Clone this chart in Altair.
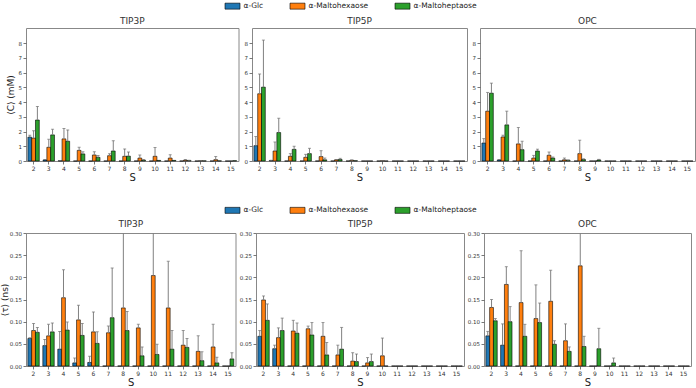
import altair as alt
import pandas as pd

S_VALUES = list(range(2, 16))
SERIES = ["α-Glc", "α-Maltohexaose", "α-Maltoheptaose"]
COLORS = ["#1f77b4", "#ff7f0e", "#2ca02c"]
MODELS = ["TIP3P", "TIP5P", "OPC"]

# ---------- <C> (mM) ----------
c_tip3p_glc = [1.62, 0.07, 0.02, 0, 0, 0, 0, 0, 0, 0, 0, 0, 0, 0]
c_tip3p_glc_err = [0.12, 0.03, 0.01, 0, 0, 0, 0, 0, 0, 0, 0, 0, 0, 0]
c_tip3p_hexa = [1.55, 0.93, 1.50, 0.72, 0.41, 0.36, 0.32, 0.20, 0.32, 0.20, 0.05, 0.02, 0.09, 0.0]
c_tip3p_hexa_err = [0.51, 0.54, 0.71, 0.21, 0.22, 0.14, 0.50, 0.21, 0.59, 0.23, 0.05, 0.01, 0.21, 0]
c_tip3p_hepta = [2.78, 1.77, 1.34, 0.48, 0.25, 0.68, 0.33, 0.05, 0.04, 0.04, 0.03, 0.01, 0.01, 0.02]
c_tip3p_hepta_err = [0.92, 0.38, 0.77, 0.14, 0.12, 0.70, 0.28, 0.05, 0, 0, 0.02, 0, 0, 0]

c_tip5p_glc = [1.04, 0.03, 0, 0, 0, 0, 0, 0, 0, 0, 0, 0, 0, 0]
c_tip5p_glc_err = [0.62, 0.02, 0, 0, 0, 0, 0, 0, 0, 0, 0, 0, 0, 0]
c_tip5p_hexa = [4.56, 0.68, 0.32, 0.25, 0.30, 0.08, 0.05, 0, 0.02, 0, 0, 0, 0, 0]
c_tip5p_hexa_err = [1.34, 0.61, 0.18, 0.20, 0.40, 0.02, 0.02, 0, 0.01, 0, 0, 0, 0, 0]
c_tip5p_hepta = [5.01, 1.93, 0.79, 0.50, 0.08, 0.10, 0.02, 0, 0, 0, 0, 0, 0, 0]
c_tip5p_hepta_err = [3.19, 0.97, 0.21, 0.36, 0.12, 0.08, 0, 0, 0, 0, 0, 0, 0, 0]

c_opc_glc = [1.22, 0.07, 0, 0, 0, 0, 0, 0, 0, 0, 0, 0, 0, 0]
c_opc_glc_err = [0.30, 0.03, 0, 0, 0, 0, 0, 0, 0, 0, 0, 0, 0, 0]
c_opc_hexa = [3.38, 1.63, 1.16, 0.20, 0.39, 0.08, 0.50, 0, 0, 0, 0, 0, 0, 0]
c_opc_hexa_err = [1.27, 0.12, 1.11, 0.18, 0.22, 0.12, 0.91, 0, 0, 0, 0, 0, 0, 0]
c_opc_hepta = [4.60, 2.45, 0.77, 0.68, 0.20, 0.05, 0.10, 0.07, 0, 0, 0, 0, 0, 0]
c_opc_hepta_err = [0.68, 0.93, 0.57, 0.12, 0.07, 0.02, 0.05, 0.04, 0, 0, 0, 0, 0, 0]

# ---------- <tau> (ns) ----------
t_tip3p_glc = [0.062, 0.046, 0.038, 0.007, 0.008, 0, 0, 0, 0, 0, 0, 0, 0, 0]
t_tip3p_glc_err = [0.002, 0.014, 0.040, 0.011, 0.014, 0, 0, 0, 0, 0, 0, 0, 0, 0]
t_tip3p_hexa = [0.080, 0.068, 0.154, 0.104, 0.077, 0.075, 0.131, 0.086, 0.204, 0.131, 0.047, 0.033, 0.043, 0]
t_tip3p_hexa_err = [0.016, 0.026, 0.063, 0.033, 0.045, 0.015, 0.250, 0.008, 0.150, 0.105, 0.033, 0.035, 0.051, 0]
t_tip3p_hepta = [0.076, 0.077, 0.081, 0.069, 0.051, 0.109, 0.080, 0.023, 0.026, 0.038, 0.042, 0.012, 0.007, 0.016]
t_tip3p_hepta_err = [0.011, 0.020, 0.018, 0.027, 0.026, 0.112, 0.043, 0.020, 0.023, 0.042, 0.020, 0.020, 0.013, 0.014]

t_tip5p_glc = [0.067, 0.039, 0, 0, 0, 0, 0, 0, 0, 0, 0, 0, 0, 0]
t_tip5p_glc_err = [0.013, 0.008, 0, 0, 0, 0, 0, 0, 0, 0, 0, 0, 0, 0]
t_tip5p_hexa = [0.149, 0.064, 0.079, 0.084, 0.067, 0.025, 0.011, 0.007, 0.023, 0, 0, 0, 0, 0]
t_tip5p_hexa_err = [0.009, 0.022, 0.024, 0.006, 0.031, 0.022, 0.019, 0.012, 0.040, 0, 0, 0, 0, 0]
t_tip5p_hepta = [0.103, 0.080, 0.074, 0.070, 0.025, 0.038, 0.010, 0.010, 0, 0, 0, 0, 0, 0]
t_tip5p_hepta_err = [0.037, 0.028, 0.023, 0.028, 0.028, 0.049, 0.017, 0.017, 0, 0, 0, 0, 0, 0]

t_opc_glc = [0.068, 0.047, 0, 0, 0, 0, 0, 0, 0, 0, 0, 0, 0, 0]
t_opc_glc_err = [0.010, 0.048, 0, 0, 0, 0, 0, 0, 0, 0, 0, 0, 0, 0]
t_opc_hexa = [0.132, 0.184, 0.143, 0.107, 0.146, 0.057, 0.226, 0, 0, 0, 0, 0, 0, 0]
t_opc_hexa_err = [0.018, 0.040, 0.117, 0.076, 0.070, 0.038, 0.150, 0, 0, 0, 0, 0, 0, 0]
t_opc_hepta = [0.102, 0.100, 0.067, 0.098, 0.049, 0.033, 0.044, 0.039, 0.007, 0, 0, 0, 0, 0]
t_opc_hepta_err = [0.005, 0.034, 0.027, 0.044, 0.008, 0.010, 0.023, 0.046, 0.011, 0, 0, 0, 0, 0]

C_TICKS = [0, 1, 2, 3, 4, 5, 6, 7, 8]
T_TICKS = [0.0, 0.05, 0.10, 0.15, 0.20, 0.25, 0.30]

FONT = "DejaVu Sans"


def build_df(means, errs):
    rows = []
    for series, m, e in zip(SERIES, means, errs):
        for s, v, er in zip(S_VALUES, m, e):
            rows.append({"S": s, "series": series, "val": v, "hi": v + er})
    return pd.DataFrame(rows)


def panel(df, title, ydomain, yticks, yfmt, ytitle, width, height, legend, extent, tpad):
    x = alt.X(
        "S:O",
        title="S",
        scale=alt.Scale(domain=S_VALUES, paddingInner=0.25, paddingOuter=0.125),
        axis=alt.Axis(labelAngle=0, titleFontSize=10, titlePadding=1, labelFontSize=6),
    )
    xo = alt.XOffset("series:N", sort=SERIES, scale=alt.Scale(domain=SERIES))

    def yaxis():
        return alt.Axis(values=yticks, format=yfmt, titleFontSize=9, titlePadding=tpad,
                        labelOverlap=False, minExtent=extent, maxExtent=extent,
                        title=ytitle if ytitle else None)

    def yscale():
        return alt.Scale(domain=ydomain, nice=False, zero=True)

    color = alt.Color(
        "series:N",
        sort=SERIES,
        scale=alt.Scale(domain=SERIES, range=COLORS),
        legend=legend,
    )
    base = alt.Chart(df)
    bars = base.mark_bar(stroke="black", strokeWidth=0.6).encode(
        x=x, xOffset=xo, y=alt.Y("val:Q", scale=yscale(), axis=yaxis()), color=color
    )
    err = base.transform_filter("datum.hi > datum.val")
    rules = err.mark_rule(color="#808080", strokeWidth=1, clip=True).encode(
        x=x, xOffset=xo, y=alt.Y("val:Q", scale=yscale(), axis=yaxis()), y2="hi:Q"
    )
    caps = err.mark_tick(color="#707070", orient="horizontal", size=3, thickness=1, clip=True).encode(
        x=x, xOffset=xo, y=alt.Y("hi:Q", scale=yscale(), axis=yaxis())
    )
    return alt.layer(bars, rules, caps).properties(
        width=width, height=height,
        title=alt.TitleParams(title, fontSize=9, fontWeight="normal", offset=2, color="#333333"),
    )


def make_legend(ly):
    return alt.Legend(
        orient="none",
        legendX=201,
        legendY=ly,
        direction="horizontal",
        title=None,
        padding=0,
        symbolType="M-1.5,-0.6H1.5V0.6H-1.5Z",
        symbolSize=100,
        symbolStrokeColor="black",
        symbolStrokeWidth=0.6,
        labelFontSize=7.5,
        labelFont=FONT,
        labelColor="#222222",
        labelOffset=5.5,
        columnPadding=24,
    )


c_sets = [
    ([c_tip3p_glc, c_tip3p_hexa, c_tip3p_hepta], [c_tip3p_glc_err, c_tip3p_hexa_err, c_tip3p_hepta_err]),
    ([c_tip5p_glc, c_tip5p_hexa, c_tip5p_hepta], [c_tip5p_glc_err, c_tip5p_hexa_err, c_tip5p_hepta_err]),
    ([c_opc_glc, c_opc_hexa, c_opc_hepta], [c_opc_glc_err, c_opc_hexa_err, c_opc_hepta_err]),
]
t_sets = [
    ([t_tip3p_glc, t_tip3p_hexa, t_tip3p_hepta], [t_tip3p_glc_err, t_tip3p_hexa_err, t_tip3p_hepta_err]),
    ([t_tip5p_glc, t_tip5p_hexa, t_tip5p_hepta], [t_tip5p_glc_err, t_tip5p_hexa_err, t_tip5p_hepta_err]),
    ([t_opc_glc, t_opc_hexa, t_opc_hepta], [t_opc_glc_err, t_opc_hexa_err, t_opc_hepta_err]),
]

top_widths = [212.5, 215, 215]
bot_widths = [209.5, 208, 207]

top_panels = []
for i, (model, (m, e)) in enumerate(zip(MODELS, c_sets)):
    top_panels.append(
        panel(build_df(m, e), model, [0, 9.02], C_TICKS, "d",
              "⟨C⟩ (mM)" if i == 0 else "", top_widths[i], 133, make_legend(-27.5), 8, 3)
    )
bot_panels = []
for i, (model, (m, e)) in enumerate(zip(MODELS, t_sets)):
    bot_panels.append(
        panel(build_df(m, e), model, [0, 0.30], T_TICKS, ".2f",
              "⟨τ⟩ (ns)" if i == 0 else "", bot_widths[i], 133, make_legend(-28.3), 16, 0.5)
    )

row1 = alt.hconcat(*top_panels, spacing=13, bounds="flush")
row2 = alt.hconcat(*bot_panels, spacing=20, bounds="flush")

chart = (
    alt.vconcat(row1, row2, spacing=21)
    .resolve_scale(color="independent")
    .properties(padding={"left": 0, "top": 0, "right": 0, "bottom": 0})
    .configure(font=FONT)
    .configure_view(stroke="#888888", strokeWidth=1)
    .configure_axis(
        labelFont=FONT,
        titleFont=FONT,
        labelFontSize=5.5,
        labelColor="#333333",
        titleColor="#222222",
        titleFontWeight="normal",
        tickSize=3,
        tickColor="#555555",
        tickWidth=0.8,
        domain=False,
        grid=False,
        labelPadding=1.5,
    )
    .configure_title(font=FONT, color="#333333")
)

chart.save("out.html", embed_options={"renderer": "svg", "actions": False})
